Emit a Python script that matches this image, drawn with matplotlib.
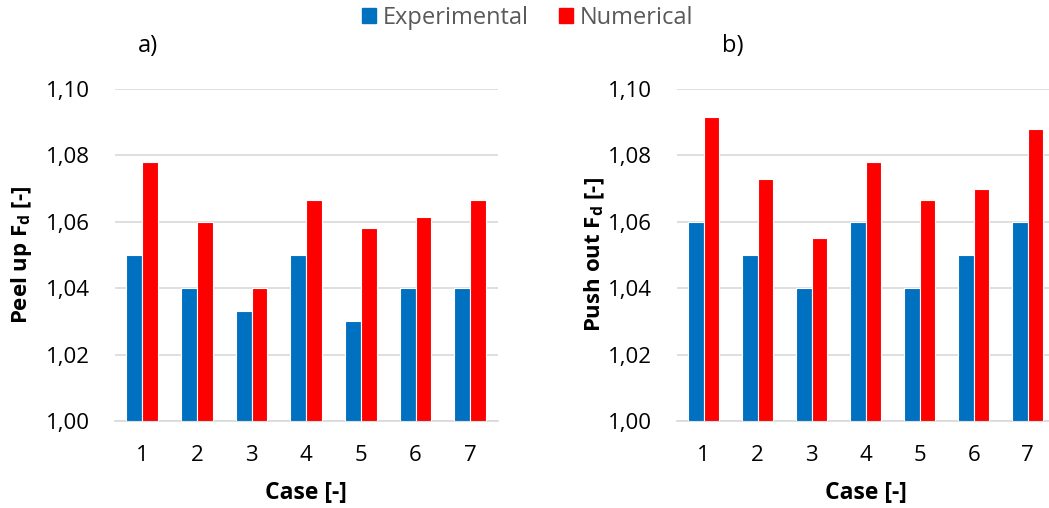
import numpy as np
import matplotlib
matplotlib.use('Agg')
import matplotlib.pyplot as plt
from matplotlib.patches import Patch

plt.rcParams['font.family'] = ['Open Sans', 'DejaVu Sans']
plt.rcParams['mathtext.fontset'] = 'custom'
plt.rcParams['mathtext.rm'] = 'Open Sans'
plt.rcParams['mathtext.bf'] = 'Open Sans:bold'

# data
cases = ['1', '2', '3', '4', '5', '6', '7']
peel_exp = [1.050, 1.040, 1.033, 1.050, 1.030, 1.040, 1.040]
peel_num = [1.078, 1.060, 1.040, 1.0665, 1.058, 1.0615, 1.0665]
push_exp = [1.060, 1.050, 1.040, 1.060, 1.040, 1.050, 1.060]
push_num = [1.0915, 1.073, 1.055, 1.078, 1.0665, 1.070, 1.088]

blue = '#0070c0'
red = '#ff0000'
grid = '#d9d9d9'

fig = plt.figure(figsize=(10.49, 5.08), dpi=100)
ax1 = fig.add_axes([0.1094, 0.1713, 0.365, 0.6535])
ax2 = fig.add_axes([0.6449, 0.1713, 0.3605, 0.6535])

x = np.arange(len(cases))
w = 0.29

def draw(ax, exp, num, ylabel, tag, tag_x, ypad):
    ax.bar(x - w / 2, np.array(exp) - 1.0, w, bottom=1.0, color=blue,
           edgecolor='white', linewidth=0.8, zorder=3)
    ax.bar(x + w / 2, np.array(num) - 1.0, w, bottom=1.0, color=red,
           edgecolor='white', linewidth=0.8, zorder=3)
    ax.set_xlim(-0.5, len(cases) - 0.5)
    ax.set_ylim(1.0, 1.10)
    ax.set_yticks([1.00, 1.02, 1.04, 1.06, 1.08, 1.10])
    ax.set_yticklabels(['1,00', '1,02', '1,04', '1,06', '1,08', '1,10'])
    ax.set_xticks(x)
    ax.set_xticklabels(cases)
    ax.tick_params(length=0, labelsize=16)
    ax.tick_params(axis='x', pad=17)
    ax.tick_params(axis='y', pad=18)
    ax.yaxis.grid(True, color=grid, linewidth=1.2, zorder=0)
    ax.set_axisbelow(True)
    for s in ['top', 'right', 'left']:
        ax.spines[s].set_visible(False)
    ax.spines['bottom'].set_color(grid)
    ax.spines['bottom'].set_linewidth(1.2)
    ax.set_xlabel('Case [-]', fontsize=16.5, fontweight='bold', labelpad=11)
    ax.set_ylabel(ylabel, fontsize=16, fontweight='bold', labelpad=ypad)
    ax.text(tag_x, 1.13, tag, transform=ax.transAxes, fontsize=17,
            ha='center', va='center')

draw(ax1, peel_exp, peel_num, r'Peel up F$_\mathbf{d}$ [-]', 'a)', 0.086, 8.5)
draw(ax2, push_exp, push_num, r'Push out F$_\mathbf{d}$ [-]', 'b)', 0.148, 0.5)

handles = [Patch(color=blue, label='Experimental'), Patch(color=red, label='Numerical')]
fig.legend(handles=handles, loc='center', bbox_to_anchor=(0.503, 0.965), ncol=2,
           frameon=False, fontsize=17, handlelength=0.58, handleheight=0.58,
           handletextpad=0.3, columnspacing=1.27, labelcolor='#595959')

fig.savefig('out.png', dpi=100)
